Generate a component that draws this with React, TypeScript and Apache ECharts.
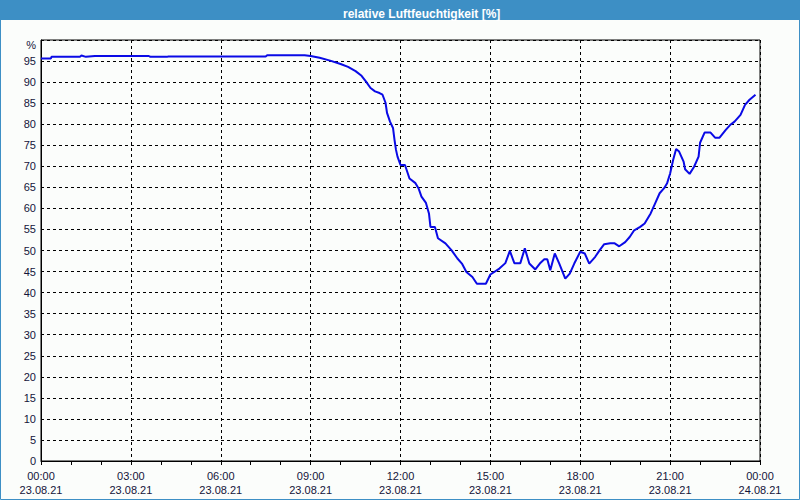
import React, { useEffect, useRef } from "react";
import * as echarts from "echarts";

const titleText = "relative Luftfeuchtigkeit [%]";
const hours = [
  0.0, 0.33, 0.35, 1.3, 1.35, 1.5, 1.8, 3.6, 3.65, 4.2, 4.25, 7.5, 7.55, 8.8, 9.0, 9.3, 9.65, 10.0,
  10.25, 10.5, 10.7, 10.85, 11.0, 11.15, 11.3, 11.4, 11.5, 11.55, 11.65, 11.75, 11.8, 11.85, 11.9,
  12.0, 12.15, 12.3, 12.5, 12.6, 12.7, 12.85, 12.95, 13.0, 13.15, 13.25, 13.5, 13.7, 13.9, 14.05,
  14.2, 14.4, 14.55, 14.85, 15.0, 15.3, 15.5, 15.65, 15.8, 16.0, 16.15, 16.3, 16.5, 16.65, 16.8,
  16.9, 17.0, 17.15, 17.3, 17.5, 17.65, 17.8, 18.0, 18.15, 18.3, 18.5, 18.65, 18.8, 19.0, 19.15,
  19.3, 19.5, 19.65, 19.8, 20.0, 20.15, 20.35, 20.5, 20.65, 20.8, 20.9, 21.0, 21.1, 21.2, 21.3,
  21.45, 21.5, 21.65, 21.8, 21.95, 22.0, 22.15, 22.35, 22.5, 22.65, 22.85, 23.0, 23.15, 23.35,
  23.5, 23.65, 23.85,
];
const humidity = [
  95.6, 95.6, 96.0, 96.0, 96.3, 96.0, 96.2, 96.2, 96.0, 96.0, 96.1, 96.1, 96.4, 96.4, 96.2, 95.8,
  95.1, 94.3, 93.6, 92.6, 91.5, 90.1, 88.6, 87.8, 87.4, 87.0, 85.1, 82.7, 80.6, 79.1, 76.3, 73.9,
  72.3, 70.3, 70.3, 67.1, 66.0, 64.8, 62.8, 61.3, 58.8, 55.6, 55.6, 52.9, 51.7, 50.1, 48.1, 46.9,
  44.9, 43.7, 42.1, 42.1, 44.3, 45.7, 47.0, 49.9, 47.0, 47.0, 50.5, 46.9, 45.5, 46.9, 47.9, 47.9,
  45.3, 49.3, 46.9, 43.3, 44.5, 46.9, 49.7, 49.3, 46.9, 48.5, 50.1, 51.5, 51.7, 51.7, 51.0, 52.0,
  53.2, 54.8, 55.6, 56.4, 58.8, 61.2, 63.6, 64.8, 66.0, 68.3, 71.5, 74.1, 73.5, 71.1, 69.3, 68.2,
  69.9, 72.3, 75.6, 78.0, 78.0, 76.8, 76.8, 78.6, 79.8, 80.6, 82.2, 84.6, 85.8, 87.0,
];
const xTickLabels = [
  "00:00\n23.08.21", "03:00\n23.08.21", "06:00\n23.08.21", "09:00\n23.08.21", "12:00\n23.08.21",
  "15:00\n23.08.21", "18:00\n23.08.21", "21:00\n23.08.21", "00:00\n24.08.21",
];
const yUnit = "%";

export default function App() {
  const ref = useRef<HTMLDivElement>(null);
  useEffect(() => {
    if (!ref.current) return;
    const chart = echarts.init(ref.current, null, { renderer: "svg" });
    const textColor = "#14143a";
    const font = "Liberation Sans, Arial, sans-serif";
    chart.setOption({
      animation: false,
      backgroundColor: "#fbfdfb",
      title: {
        text: titleText,
        left: 338,
        top: 3,
        textStyle: { color: "#ffffff", fontSize: 12, fontWeight: "bold", fontFamily: font },
      },
      graphic: [
        { type: "rect", z: -1, shape: { x: 0, y: 0, width: 800, height: 20 }, style: { fill: "#3d8fc5" } },
        {
          type: "rect",
          z: -1,
          shape: { x: 0.5, y: 0.5, width: 799, height: 499 },
          style: { fill: "none", stroke: "#3d8fc5", lineWidth: 1 },
        },
      ],
      grid: {
        left: 41,
        right: 40,
        top: 40,
        bottom: 39,
        show: true,
        borderColor: "#000",
        borderWidth: 1,
        backgroundColor: "transparent",
      },
      xAxis: {
        type: "value",
        min: 0,
        max: 24,
        interval: 3,
        axisLine: { lineStyle: { color: "#000", width: 1 } },
        axisTick: { show: true, length: 4, lineStyle: { color: "#000" } },
        minorTick: { show: true, splitNumber: 3, length: 4, lineStyle: { color: "#000" } },
        splitLine: { show: true, lineStyle: { color: "#000", type: [3, 3], width: 1 } },
        axisLabel: {
          color: textColor,
          fontSize: 11,
          fontFamily: font,
          margin: 8,
          lineHeight: 14,
          showMaxLabel: true,
          showMinLabel: true,
          formatter: (v: number) => xTickLabels[Math.round(v / 3)] ?? "",
        },
      },
      yAxis: {
        type: "value",
        min: 0,
        max: 100,
        interval: 5,
        name: yUnit,
        nameLocation: "end",
        nameGap: -5,
        nameTextStyle: {
          color: textColor,
          fontSize: 11,
          fontFamily: font,
          align: "right",
          verticalAlign: "middle",
          padding: [0, 5, 0, 0],
        },
        axisLine: { show: true, lineStyle: { color: "#000", width: 1 } },
        axisTick: { show: false },
        splitLine: { show: true, lineStyle: { color: "#000", type: [3, 3], width: 1 } },
        axisLabel: {
          color: textColor,
          fontSize: 11,
          fontFamily: font,
          margin: 5,
          formatter: (v: number) => (v >= 100 ? "" : String(v)),
        },
      },
      series: [
        {
          type: "line",
          data: hours.map((h, i) => [h, humidity[i]]),
          showSymbol: false,
          lineStyle: { color: "#0a0ae6", width: 2 },
          itemStyle: { color: "#0a0ae6" },
        },
      ],
    });
    return () => chart.dispose();
  }, []);
  return (
    <div
      ref={ref}
      style={{ position: "fixed", left: 0, top: 0, width: 800, height: 500 }}
    />
  );
}
